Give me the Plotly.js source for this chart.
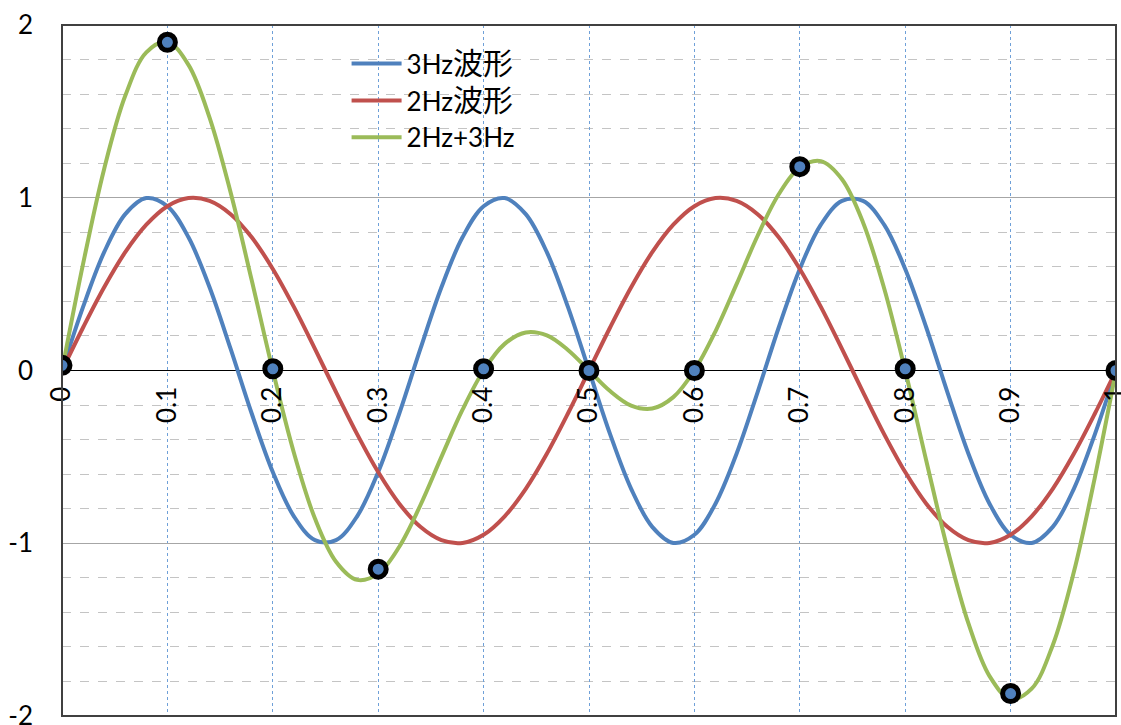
<!DOCTYPE html>
<html>
<head>
<meta charset="utf-8">
<script src="https://cdn.plot.ly/plotly-3.0.1.min.js"></script>
<style>
  html, body { margin: 0; padding: 0; background: #ffffff; }
  #chart { width: 1121px; height: 725px; }
</style>
</head>
<body>
<div id="chart"></div>
<script>
// Sample times (seconds), one period of the combined wave
const timeS = [
  0.00, 0.02, 0.04, 0.06, 0.08, 0.10, 0.12, 0.14, 0.16, 0.18,
  0.20, 0.22, 0.24, 0.26, 0.28, 0.30, 0.32, 0.34, 0.36, 0.38,
  0.40, 0.42, 0.44, 0.46, 0.48, 0.50, 0.52, 0.54, 0.56, 0.58,
  0.60, 0.62, 0.64, 0.66, 0.68, 0.70, 0.72, 0.74, 0.76, 0.78,
  0.80, 0.82, 0.84, 0.86, 0.88, 0.90, 0.92, 0.94, 0.96, 0.98,
  1.00
];

// 3 Hz waveform
const wave3Hz = [
  0.000, 0.368, 0.685, 0.905, 0.998, 0.951, 0.771, 0.482, 0.125, -0.249,
  -0.588, -0.844, -0.982, -0.982, -0.844, -0.588, -0.249, 0.125, 0.482, 0.771,
  0.951, 0.998, 0.905, 0.685, 0.368, 0.000, -0.368, -0.685, -0.905, -0.998,
  -0.951, -0.771, -0.482, -0.125, 0.249, 0.588, 0.844, 0.982, 0.982, 0.844,
  0.588, 0.249, -0.125, -0.482, -0.771, -0.951, -0.998, -0.905, -0.685, -0.368,
  0.000
];

// 2 Hz waveform
const wave2Hz = [
  0.000, 0.249, 0.482, 0.685, 0.844, 0.951, 0.998, 0.982, 0.905, 0.771,
  0.588, 0.368, 0.125, -0.125, -0.368, -0.588, -0.771, -0.905, -0.982, -0.998,
  -0.951, -0.844, -0.685, -0.482, -0.249, 0.000, 0.249, 0.482, 0.685, 0.844,
  0.951, 0.998, 0.982, 0.905, 0.771, 0.588, 0.368, 0.125, -0.125, -0.368,
  -0.588, -0.771, -0.905, -0.982, -0.998, -0.951, -0.844, -0.685, -0.482, -0.249,
  0.000
];

// Combined 2 Hz + 3 Hz waveform
const waveSum = [
  0.000, 0.617, 1.167, 1.590, 1.842, 1.902, 1.769, 1.464, 1.030, 0.522,
  0.000, -0.476, -0.857, -1.107, -1.212, -1.176, -1.020, -0.780, -0.500, -0.227,
  0.000, 0.154, 0.220, 0.203, 0.119, 0.000, -0.119, -0.203, -0.220, -0.154,
  0.000, 0.227, 0.500, 0.780, 1.020, 1.176, 1.212, 1.107, 0.857, 0.476,
  0.000, -0.522, -1.030, -1.464, -1.769, -1.902, -1.842, -1.590, -1.167, -0.617,
  0.000
];

// Sampled points of the combined wave, every 0.1 s
const sampleT = [0.0, 0.1, 0.2, 0.3, 0.4, 0.5, 0.6, 0.7, 0.8, 0.9, 1.0];
const sampleV = [0.03, 1.90, 0.01, -1.15, 0.01, 0.00, 0.00, 1.18, 0.01, -1.87, 0.00];

// Axis tick labels
const xTickVals = [0, 0.1, 0.2, 0.3, 0.4, 0.5, 0.6, 0.7, 0.8, 0.9, 1];
const xTickText = ['0', '0.1', '0.2', '0.3', '0.4', '0.5', '0.6', '0.7', '0.8', '0.9', '1'];
const yTickVals = [-2, -1, 0, 1, 2];
const yTickText = ['-2', '-1', '0', '1', '2'];

// Legend entries (Latin part, CJK part)
const seriesLatin = ['3Hz', '2Hz', '2Hz+3Hz'];
const seriesCjk = ['波形', '波形', ''];
const seriesColors = ['#4f81bd', '#c0504d', '#9bbb59'];
const seriesValues = [wave3Hz, wave2Hz, waveSum];

const FONT = 'Lato, Noto Sans CJK SC, sans-serif';

function legendName(i) {
  const cjk = seriesCjk[i];
  return cjk ? seriesLatin[i] + '<span style="font-size:30px">' + cjk + '</span>' : seriesLatin[i];
}

const traces = seriesValues.map((vals, i) => ({
  type: 'scatter',
  mode: 'lines',
  x: timeS,
  y: vals,
  name: legendName(i),
  legendgroup: 'g' + i,
  line: { color: seriesColors[i], width: 4, shape: 'spline', smoothing: 1 },
  hoverinfo: 'x+y'
}));

traces.push({
  type: 'scatter',
  mode: 'markers',
  x: sampleT,
  y: sampleV,
  showlegend: false,
  marker: {
    symbol: 'circle',
    size: 16,
    color: '#4f81bd',
    line: { color: '#000000', width: 5 }
  }
});

const layout = {
  width: 1121,
  height: 725,
  margin: { l: 62, r: 5, t: 25, b: 9 },
  paper_bgcolor: '#ffffff',
  plot_bgcolor: '#ffffff',
  font: { family: FONT, color: '#000000' },
  showlegend: true,
  legend: {
    x: 0.27, y: 0.978,
    xanchor: 'left', yanchor: 'top',
    bgcolor: 'rgba(0,0,0,0)',
    borderwidth: 0,
    font: { family: FONT, size: 26, color: '#000000' },
    itemwidth: 50,
    traceorder: 'grouped',
    tracegroupgap: 0
  },
  xaxis: {
    range: [0, 1],
    anchor: 'free',
    position: 0.5,
    tickmode: 'array',
    tickvals: xTickVals,
    ticktext: xTickText,
    tickangle: -90,
    ticks: '',
    ticklabelstandoff: 10,
    ticklabeloverflow: 'allow',
    tickfont: { family: FONT, size: 26, color: '#000000' },
    showline: false,
    zeroline: false,
    showgrid: true,
    gridcolor: '#6fa0d8',
    gridwidth: 1,
    griddash: 'dot'
  },
  yaxis: {
    range: [-2, 2],
    tickmode: 'array',
    tickvals: yTickVals,
    ticktext: yTickText,
    ticks: '',
    ticklabelstandoff: 28,
    ticklabeloverflow: 'allow',
    tickfont: { family: FONT, size: 26, color: '#000000' },
    showline: false,
    zeroline: true,
    zerolinecolor: '#000000',
    zerolinewidth: 1.5,
    showgrid: true,
    gridcolor: '#a6a6a6',
    gridwidth: 1,
    minor: {
      dtick: 0.2,
      showgrid: true,
      gridcolor: '#c4c4c4',
      gridwidth: 1,
      griddash: 'dash',
      ticks: ''
    }
  },
  shapes: [{
    type: 'rect',
    xref: 'paper', yref: 'paper',
    x0: 0, x1: 1, y0: 0, y1: 1,
    line: { color: '#404040', width: 2 },
    fillcolor: 'rgba(0,0,0,0)',
    layer: 'above'
  }]
};

Plotly.newPlot('chart', traces, layout, { displayModeBar: false, staticPlot: true });
</script>
</body>
</html>
